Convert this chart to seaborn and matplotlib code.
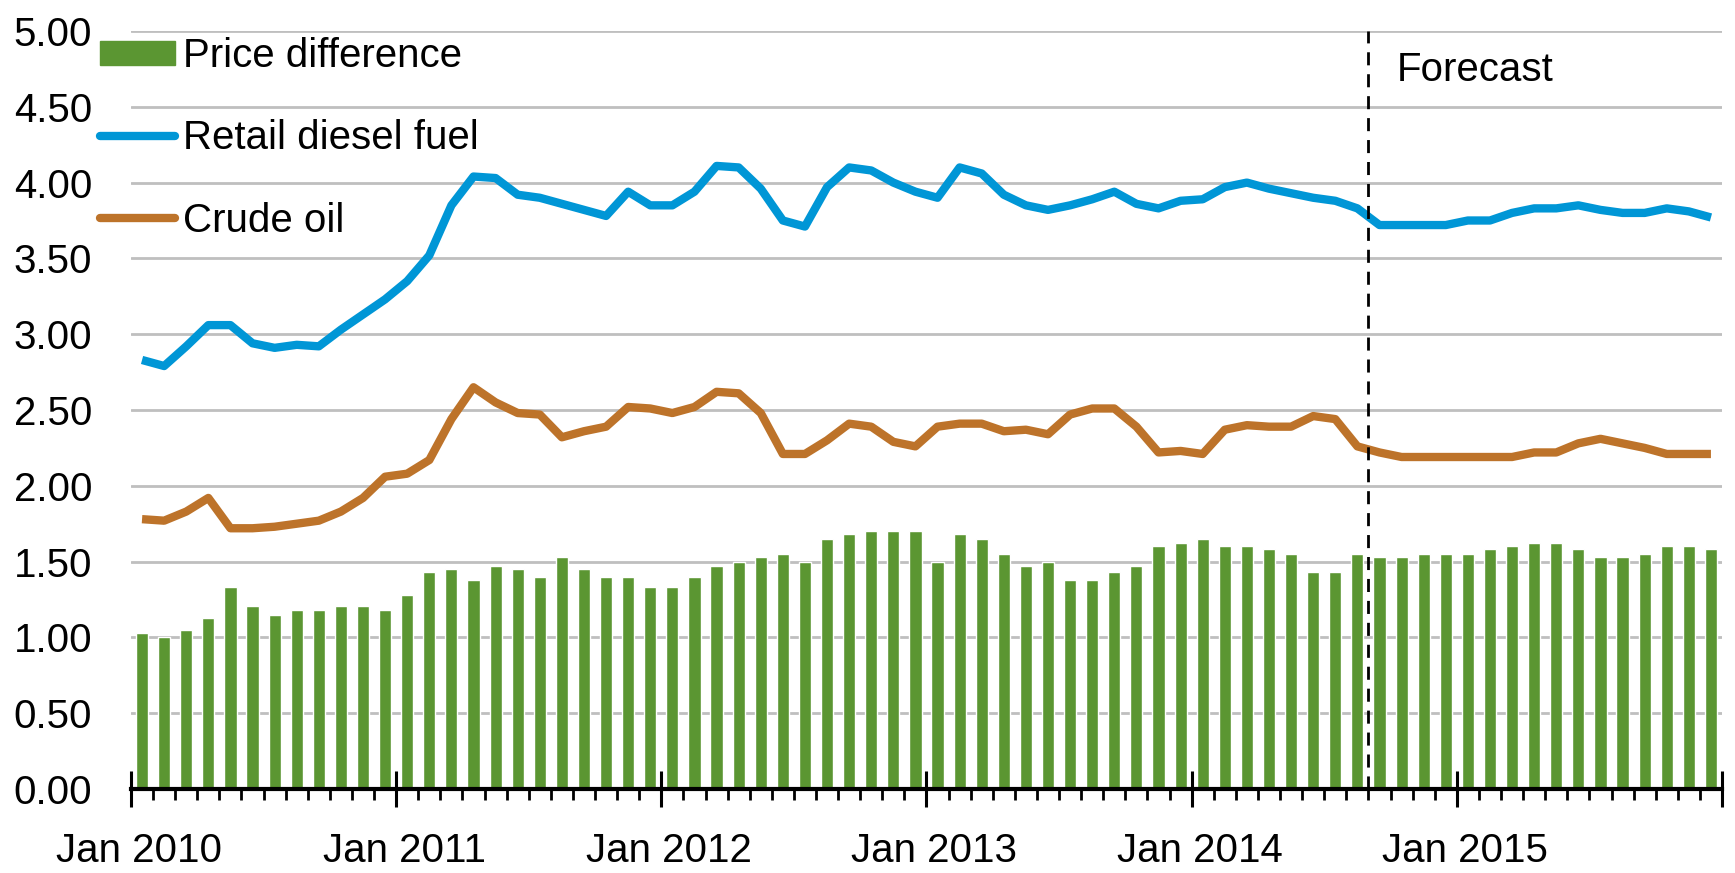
import numpy as np
import pandas as pd
import matplotlib
matplotlib.use("Agg")
import matplotlib.pyplot as plt
import matplotlib.transforms as mtransforms
from matplotlib.patches import Patch
from matplotlib.lines import Line2D
import seaborn as sns

# monthly data, Jan 2010 - Dec 2015 (dollars per gallon)
months = pd.date_range("2010-01-01", periods=72, freq="MS")
year_labels = ["Jan 2010", "Jan 2011", "Jan 2012", "Jan 2013", "Jan 2014", "Jan 2015", ""]

price_diff = [1.03, 1.00, 1.05, 1.13, 1.33, 1.21, 1.15, 1.18, 1.18, 1.21, 1.21, 1.18,
              1.28, 1.43, 1.45, 1.38, 1.47, 1.45, 1.40, 1.53, 1.45, 1.40, 1.40, 1.33,
              1.33, 1.40, 1.47, 1.50, 1.53, 1.55, 1.50, 1.65, 1.68, 1.70, 1.70, 1.70,
              1.50, 1.68, 1.65, 1.55, 1.47, 1.50, 1.38, 1.38, 1.43, 1.47, 1.60, 1.62,
              1.65, 1.60, 1.60, 1.58, 1.55, 1.43, 1.43, 1.55, 1.53, 1.53, 1.55, 1.55,
              1.55, 1.58, 1.60, 1.62, 1.62, 1.58, 1.53, 1.53, 1.55, 1.60, 1.60, 1.58]

retail_diesel = [2.83, 2.79, 2.92, 3.06, 3.06, 2.94, 2.91, 2.93, 2.92, 3.03, 3.13, 3.23,
                 3.35, 3.52, 3.85, 4.04, 4.03, 3.92, 3.90, 3.86, 3.82, 3.78, 3.94, 3.85,
                 3.85, 3.94, 4.11, 4.10, 3.96, 3.75, 3.71, 3.97, 4.10, 4.08, 4.00, 3.94,
                 3.90, 4.10, 4.06, 3.92, 3.85, 3.82, 3.85, 3.89, 3.94, 3.86, 3.83, 3.88,
                 3.89, 3.97, 4.00, 3.96, 3.93, 3.90, 3.88, 3.83, 3.72, 3.72, 3.72, 3.72,
                 3.75, 3.75, 3.80, 3.83, 3.83, 3.85, 3.82, 3.80, 3.80, 3.83, 3.81, 3.77]

crude_oil = [1.78, 1.77, 1.83, 1.92, 1.72, 1.72, 1.73, 1.75, 1.77, 1.83, 1.92, 2.06,
             2.08, 2.17, 2.44, 2.65, 2.55, 2.48, 2.47, 2.32, 2.36, 2.39, 2.52, 2.51,
             2.48, 2.52, 2.62, 2.61, 2.48, 2.21, 2.21, 2.30, 2.41, 2.39, 2.29, 2.26,
             2.39, 2.41, 2.41, 2.36, 2.37, 2.34, 2.47, 2.51, 2.51, 2.39, 2.22, 2.23,
             2.21, 2.37, 2.40, 2.39, 2.39, 2.46, 2.44, 2.26, 2.22, 2.19, 2.19, 2.19,
             2.19, 2.19, 2.19, 2.22, 2.22, 2.28, 2.31, 2.28, 2.25, 2.21, 2.21, 2.21]

forecast_start = pd.Timestamp("2014-09-01")

GREEN = "#5B9632"
BLUE = "#0096D6"
ORANGE = "#BD732A"
FS = 29

df = pd.DataFrame({"month": months, "pos": np.arange(len(months)),
                   "diff": price_diff, "diesel": retail_diesel, "crude": crude_oil})

sns.set_theme(style="white")
plt.rcParams["font.family"] = ["Liberation Sans", "DejaVu Sans"]
plt.rcParams["text.color"] = "black"
plt.rcParams["xtick.color"] = "black"
plt.rcParams["ytick.color"] = "black"

fig, ax = plt.subplots(figsize=(17.35, 8.73), dpi=100)
fig.subplots_adjust(left=0.0755, right=0.9925, top=0.9645, bottom=0.0962)

sns.barplot(data=df, x="pos", y="diff", native_scale=True, width=0.55,
            color=GREEN, saturation=1, ax=ax, zorder=2)
sns.lineplot(data=df, x="pos", y="diesel", color=BLUE, lw=6, ax=ax, zorder=3,
             solid_joinstyle="round", solid_capstyle="butt")
sns.lineplot(data=df, x="pos", y="crude", color=ORANGE, lw=6, ax=ax, zorder=3,
             solid_joinstyle="round", solid_capstyle="butt")

# forecast divider
fc = df.loc[df["month"] == forecast_start, "pos"].iloc[0] - 0.5
ax.axvline(fc, color="black", lw=2, ls=(0, (4.7, 3.2)), zorder=4)
ax.text(fc + 1.27, 4.74, "Forecast", fontsize=FS, va="center", ha="left")

ax.set_xlim(-0.5, len(months) - 0.5)
ax.set_ylim(0, 5)
ax.set_xlabel("")
ax.set_ylabel("")

yt = np.arange(0, 5.01, 0.5)
ax.set_yticks(yt)
ax.set_yticklabels([f"{v:.2f}" for v in yt])
ax.yaxis.grid(True, color="#BFBFBF", lw=2)
ax.xaxis.grid(False)
ax.set_axisbelow(True)

ax.set_xticks(np.arange(-0.5, len(months), 12))
ax.set_xticklabels(year_labels)
ax.set_xticks(np.arange(-0.5, len(months), 1), minor=True)
ax.tick_params(axis="x", which="both", bottom=True)
ax.tick_params(axis="x", which="major", direction="inout", length=26, width=2.2,
               color="black", pad=18, labelsize=FS)
ax.tick_params(axis="x", which="minor", direction="out", length=8, width=2, color="black")
ax.tick_params(axis="y", left=False, length=0, pad=28, labelsize=FS)

offset = mtransforms.ScaledTranslation(8 / 100, 0, fig.dpi_scale_trans)
for lab in ax.get_xticklabels():
    lab.set_transform(lab.get_transform() + offset)

for side in ["left", "right", "top"]:
    ax.spines[side].set_visible(False)
ax.spines["bottom"].set_color("black")
ax.spines["bottom"].set_linewidth(3)
ax.spines["bottom"].set_zorder(5)

handles = [Patch(color=GREEN),
           Line2D([], [], color=BLUE, lw=6),
           Line2D([], [], color=ORANGE, lw=6)]
ax.legend(handles, ["Price difference", "Retail diesel fuel", "Crude oil"],
          loc="upper left", bbox_to_anchor=(100 / 1735, 1 - 37 / 873),
          bbox_transform=fig.transFigure, frameon=False, fontsize=FS,
          handlelength=1.85, handleheight=0.55, handletextpad=0.2,
          labelspacing=1.1, borderpad=0, borderaxespad=0)

fig.savefig("out.png", dpi=100)
